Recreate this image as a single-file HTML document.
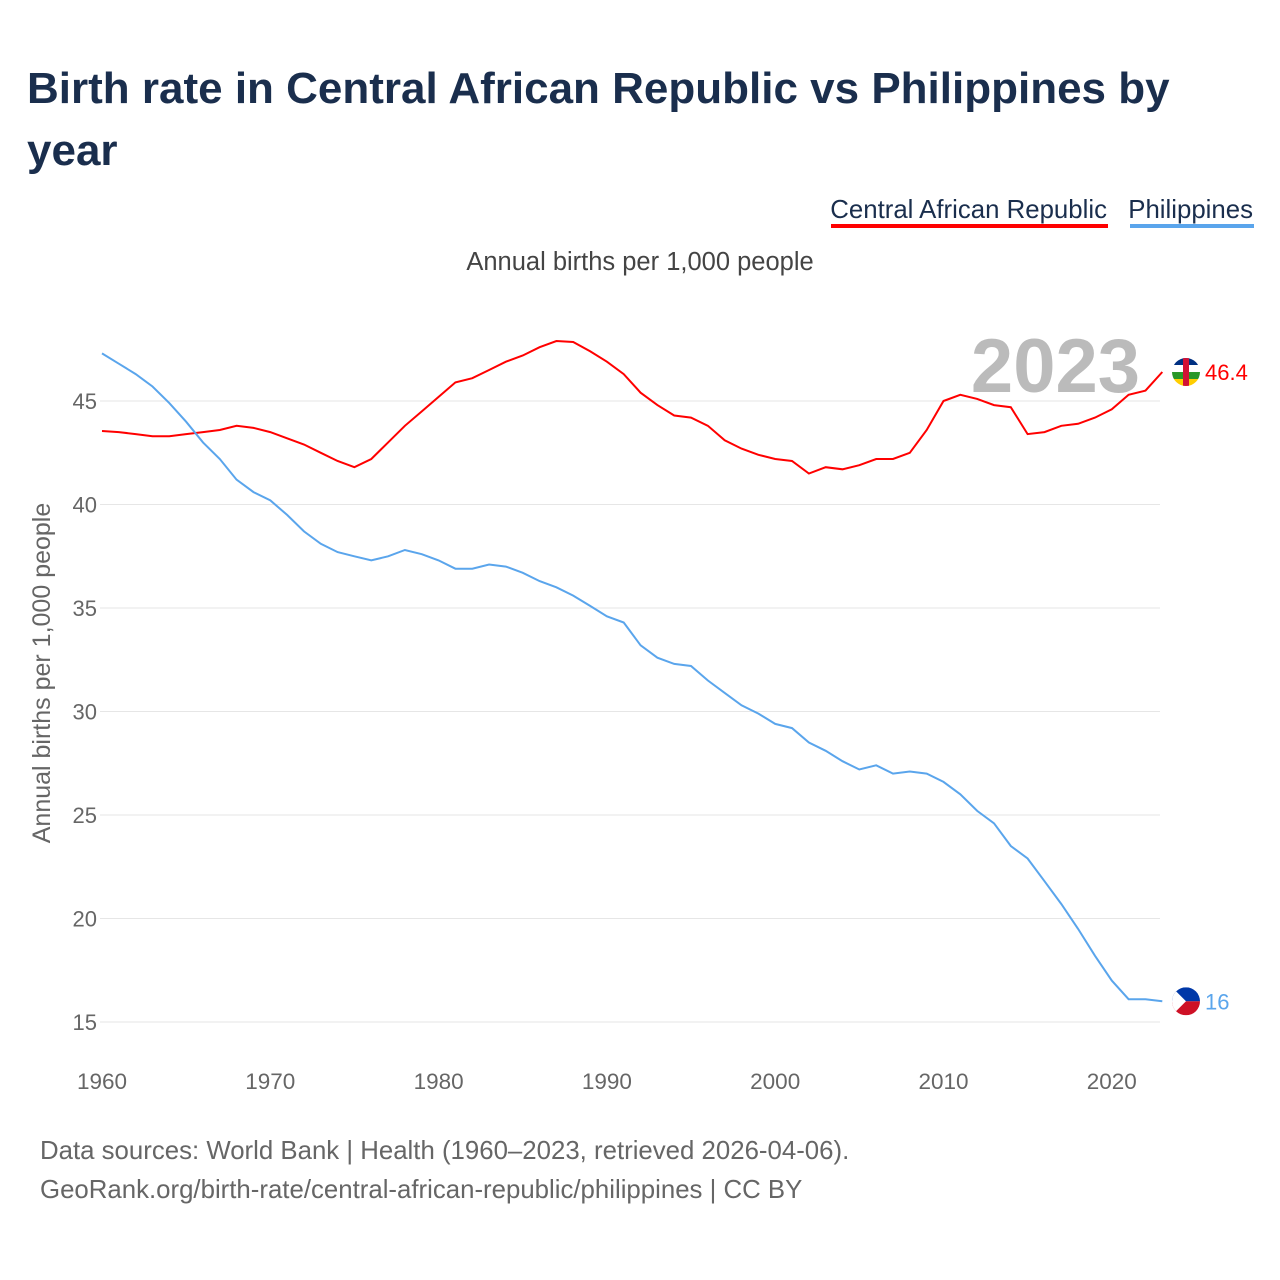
<!DOCTYPE html>
<html><head><meta charset="utf-8">
<style>
body{margin:0;background:#fff;font-family:"Liberation Sans",sans-serif;}
#wrap{position:relative;width:1280px;height:1280px;overflow:hidden;}
h1{position:absolute;left:27px;top:58px;margin:0;font-size:44px;line-height:62px;color:#1a2e4d;font-weight:bold;width:1180px;}
.foot{position:absolute;left:40px;font-size:25.8px;color:#666;}
</style></head>
<body><div id="wrap">
<h1>Birth rate in Central African Republic vs Philippines by year</h1>
<svg id="svg" width="1280" height="1280" style="position:absolute;left:0;top:0"></svg>
<div class="foot" style="top:1137px">Data sources: World Bank | Health (1960–2023, retrieved 2026-04-06).</div>
<div class="foot" style="top:1176px">GeoRank.org/birth-rate/central-african-republic/philippines | CC BY</div>
</div>
<script>
const years=[];for(let y=1960;y<=2023;y++)years.push(y);
const carValues=[43.55,43.5,43.4,43.3,43.3,43.4,43.5,43.6,43.8,43.7,43.5,43.2,42.9,42.5,42.1,41.8,42.2,43.0,43.8,44.5,45.2,45.9,46.1,46.5,46.9,47.2,47.6,47.9,47.85,47.4,46.9,46.3,45.4,44.8,44.3,44.2,43.8,43.1,42.7,42.4,42.2,42.1,41.5,41.8,41.7,41.9,42.2,42.2,42.5,43.6,45.0,45.3,45.1,44.8,44.7,43.4,43.5,43.8,43.9,44.2,44.6,45.3,45.5,46.4];
const phlValues=[47.3,46.8,46.3,45.7,44.9,44.0,43.0,42.2,41.2,40.6,40.2,39.5,38.7,38.1,37.7,37.5,37.3,37.5,37.8,37.6,37.3,36.9,36.9,37.1,37.0,36.7,36.3,36.0,35.6,35.1,34.6,34.3,33.2,32.6,32.3,32.2,31.5,30.9,30.3,29.9,29.4,29.2,28.5,28.1,27.6,27.2,27.4,27.0,27.1,27.0,26.6,26.0,25.2,24.6,23.5,22.9,21.8,20.7,19.5,18.2,17.0,16.1,16.1,16.0];
const yTicks=[15,20,25,30,35,40,45];
const xTicks=[1960,1970,1980,1990,2000,2010,2020];
const svg=document.getElementById('svg');const NS='http://www.w3.org/2000/svg';
const X=v=>102+(v-1960)*16.83;const Y=v=>1022-(v-15)*20.7;
function el(t,a,txt){const e=document.createElementNS(NS,t);for(const k in a)e.setAttribute(k,a[k]);if(txt!==undefined)e.textContent=txt;svg.appendChild(e);return e;}
yTicks.forEach(t=>{
 const g=el('line',{x1:100,x2:1160,y1:Y(t),y2:Y(t),stroke:'#e6e6e6','stroke-width':1});
 
 
 const l=el('text',{x:97,y:Y(t)+8,'text-anchor':'end','font-size':22,fill:'#666','font-family':'Liberation Sans'},t);
 
 
});
xTicks.forEach(t=>{
 const l=el('text',{x:X(t),y:1089,'text-anchor':'middle','font-size':22.5,fill:'#666','font-family':'Liberation Sans'},t);
 
 
});
let yt=el('text',{x:0,y:0,transform:'translate(50,673) rotate(-90)','text-anchor':'middle','font-size':25,fill:'#666','font-family':'Liberation Sans'},'Annual births per 1,000 people');


let st=el('text',{x:640,y:270,'text-anchor':'middle','font-size':25.5,fill:'#444','font-family':'Liberation Sans'},'Annual births per 1,000 people');


let yr=el('text',{x:1140,y:392,'text-anchor':'end','font-size':76,'font-weight':'bold',fill:'#bbb','font-family':'Liberation Sans'},'2023');


function series(vals,col,name){
 const d=vals.map((v,i)=>(i?'L':'M')+X(years[i]).toFixed(1)+','+Y(v).toFixed(1)).join(' ');
 const p=el('path',{d:d,fill:'none',stroke:col,'stroke-width':2});
 
 
}
series(carValues,'#ff0000','car-line');
series(phlValues,'#5aa5ec','philippines-line');
const cy=Y(carValues[carValues.length-1]),py=Y(phlValues[phlValues.length-1]);
let c1=el('g',{});
c1.innerHTML=`<clipPath id="cc"><circle cx="1186" cy="${cy}" r="14"/></clipPath><g clip-path="url(#cc)"><rect x="1172" y="${cy-14}" width="28" height="7" fill="#003082"/><rect x="1172" y="${cy-7}" width="28" height="7" fill="#fff"/><rect x="1172" y="${cy}" width="28" height="7" fill="#289728"/><rect x="1172" y="${cy+7}" width="28" height="7" fill="#ffce00"/><rect x="1183" y="${cy-14}" width="6" height="28" fill="#d21034"/></g>`;
let c2=el('g',{});
c2.innerHTML=`<clipPath id="pc"><circle cx="1186" cy="${py}" r="14"/></clipPath><g clip-path="url(#pc)"><rect x="1172" y="${py-14}" width="28" height="14" fill="#0038a8"/><rect x="1172" y="${py}" width="28" height="14" fill="#ce1126"/><polygon points="1172,${py-14} 1186,${py} 1172,${py+14}" fill="#fff"/></g>`;
let v1=el('text',{x:1205,y:cy+8,'font-size':22,fill:'#ff0000','font-family':'Liberation Sans'},carValues[carValues.length-1]);

let v2=el('text',{x:1205,y:py+8,'font-size':22,fill:'#5aa5ec','font-family':'Liberation Sans'},phlValues[phlValues.length-1]);

let l1=el('text',{x:1107,y:218,'text-anchor':'end','font-size':25.8,fill:'#1a2e4d','font-family':'Liberation Sans'},'Central African Republic');

let r1=el('rect',{x:831,y:224,width:277,height:4,fill:'#ff0000'});
let l2=el('text',{x:1253,y:218,'text-anchor':'end','font-size':25.8,fill:'#1a2e4d','font-family':'Liberation Sans'},'Philippines');

let r2=el('rect',{x:1130,y:224,width:124,height:4,fill:'#5aa5ec'});
</script>
</body></html>
